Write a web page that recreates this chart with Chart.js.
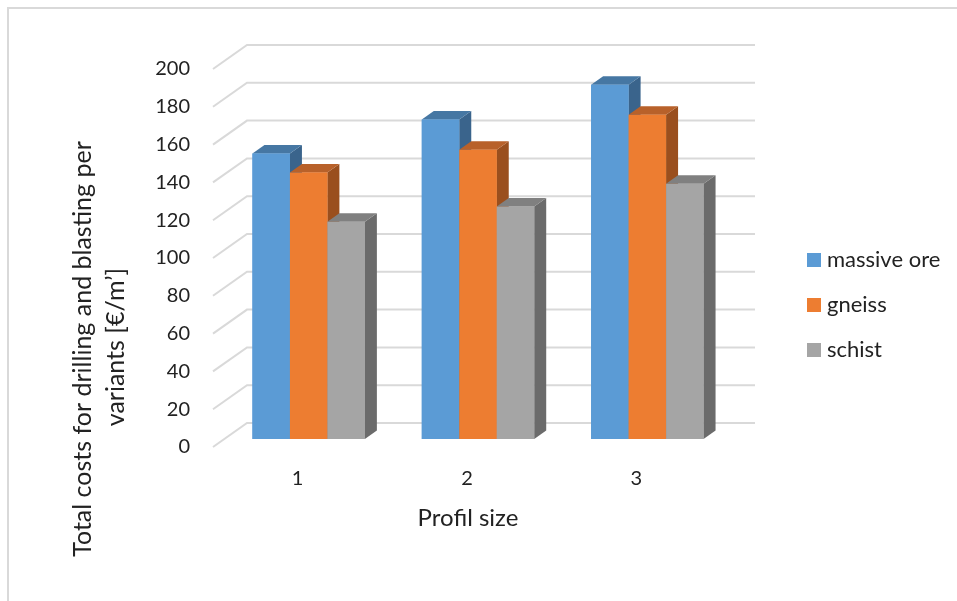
<!DOCTYPE html>
<html>
<head>
<meta charset="utf-8">
<script src="https://cdn.jsdelivr.net/npm/chart.js@4"></script>
<style>
  body { margin: 0; background: #fff; }
</style>
</head>
<body>
<canvas id="grafico" width="957" height="601"></canvas>
<script>
// dados
let categorias = ["1", "2", "3"];
let massiveOre = [151, 169, 187.5];
let gneiss = [141, 153, 171.5];
let schist = [115, 123, 135];
let ticksY = [0, 20, 40, 60, 80, 100, 120, 140, 160, 180, 200];

let nomes = ["massive ore", "gneiss", "schist"];
let corFrente = ["#5b9bd5", "#ed7d31", "#a5a5a5"];
let corTopo = ["#4677a3", "#b8612a", "#808080"];
let corLado = ["#3a648c", "#9a4f1e", "#6b6b6b"];

// deslocamentos da perspectiva obliqua
let profX = 12, profY = -8.5;   // profundidade da barra
let paredeX = 23, paredeY = -16; // parede do fundo
let chaoX = -11, chaoY = 8;      // borda da frente do chao

let corTexto = "#222222";

const cena3d = {
  id: "cena3d",
  beforeDraw(chart) {
    let ctx = chart.ctx;
    ctx.save();
    ctx.fillStyle = "#fff";
    ctx.fillRect(0, 0, chart.width, chart.height);
    ctx.strokeStyle = "#d9d9d9";
    ctx.lineWidth = 2;
    ctx.beginPath();
    ctx.moveTo(8, chart.height);
    ctx.lineTo(8, 8);
    ctx.lineTo(chart.width, 8);
    ctx.stroke();
    ctx.restore();
  },
  beforeDatasetsDraw(chart) {
    let ctx = chart.ctx;
    let area = chart.chartArea;
    let y = chart.scales.y;
    ctx.save();
    ctx.strokeStyle = "#d9d9d9";
    ctx.lineWidth = 2;
    ticksY.forEach(function (v) {
      let py = y.getPixelForValue(v);
      ctx.beginPath();
      ctx.moveTo(area.left + chaoX, py + chaoY);
      ctx.lineTo(area.left + paredeX, py + paredeY);
      ctx.lineTo(area.right + paredeX, py + paredeY);
      ctx.stroke();
    });
    ctx.restore();
  },
  afterDatasetsDraw(chart) {
    let ctx = chart.ctx;
    ctx.save();
    for (let i = 0; i < categorias.length; i++) {
      for (let d = 0; d < chart.data.datasets.length; d++) {
        let bar = chart.getDatasetMeta(d).data[i];
        let x0 = bar.x - bar.width / 2;
        let x1 = bar.x + bar.width / 2;
        let topo = bar.y;
        let base = bar.base;
        // lado
        ctx.fillStyle = corLado[d];
        ctx.beginPath();
        ctx.moveTo(x1, topo);
        ctx.lineTo(x1 + profX, topo + profY);
        ctx.lineTo(x1 + profX, base + profY);
        ctx.lineTo(x1, base);
        ctx.closePath();
        ctx.fill();
        // topo
        ctx.fillStyle = corTopo[d];
        ctx.beginPath();
        ctx.moveTo(x0, topo);
        ctx.lineTo(x0 + profX, topo + profY);
        ctx.lineTo(x1 + profX, topo + profY);
        ctx.lineTo(x1, topo);
        ctx.closePath();
        ctx.fill();
        // frente
        bar.draw(ctx);
      }
    }
    ctx.restore();
  },
  afterDraw(chart) {
    let ctx = chart.ctx;
    ctx.save();
    ctx.fillStyle = corTexto;
    ctx.textAlign = "center";
    ctx.textBaseline = "middle";
    ctx.font = "24px Lato";
    // titulo do eixo x
    ctx.fillText("Profil size", 468, 518);
    // titulo do eixo y
    ctx.font = "25px Lato";
    ctx.save();
    ctx.translate(83, 349);
    ctx.rotate(-Math.PI / 2);
    ctx.fillText("Total costs for drilling and blasting per", 0, 0);
    ctx.restore();
    ctx.save();
    ctx.translate(116, 347);
    ctx.rotate(-Math.PI / 2);
    ctx.fillText("variants [€/m’]", 0, 0);
    ctx.restore();
    // legenda
    ctx.font = "22px Lato";
    ctx.textAlign = "left";
    let legY = [260, 305, 350];
    for (let d = 0; d < nomes.length; d++) {
      ctx.fillStyle = corFrente[d];
      ctx.fillRect(807, legY[d] - 7, 14, 14);
      ctx.fillStyle = corTexto;
      ctx.fillText(nomes[d], 827, legY[d]);
    }
    ctx.restore();
  }
};

Chart.defaults.font.family = "Lato";
Chart.defaults.color = corTexto;

function criarGrafico() {
  let ctx = document.getElementById("grafico").getContext("2d");
  let series = [massiveOre, gneiss, schist];

  new Chart(ctx, {
    type: "bar",
    data: {
      labels: categorias,
      datasets: series.map(function (s, d) {
        return {
          label: nomes[d],
          data: s,
          backgroundColor: corFrente[d],
          borderWidth: 0,
          categoryPercentage: 0.664,
          barPercentage: 1
        };
      })
    },
    options: {
      responsive: false,
      animation: false,
      layout: { padding: { top: 61, right: 225, bottom: 0, left: 0 } },
      plugins: {
        legend: { display: false },
        tooltip: { enabled: false }
      },
      scales: {
        x: {
          grid: { display: false, drawTicks: false },
          border: { display: false },
          ticks: { font: { size: 20 }, padding: 28, labelOffset: chaoX },
          afterFit(s) { s.height = 162; }
        },
        y: {
          min: 0,
          max: 200,
          grid: { display: false, drawTicks: false },
          border: { display: false },
          ticks: { stepSize: 20, font: { size: 20 }, padding: 34, labelOffset: chaoY },
          afterFit(s) { s.width = 224; }
        }
      }
    },
    plugins: [cena3d]
  });
}

criarGrafico();
</script>
</body>
</html>
